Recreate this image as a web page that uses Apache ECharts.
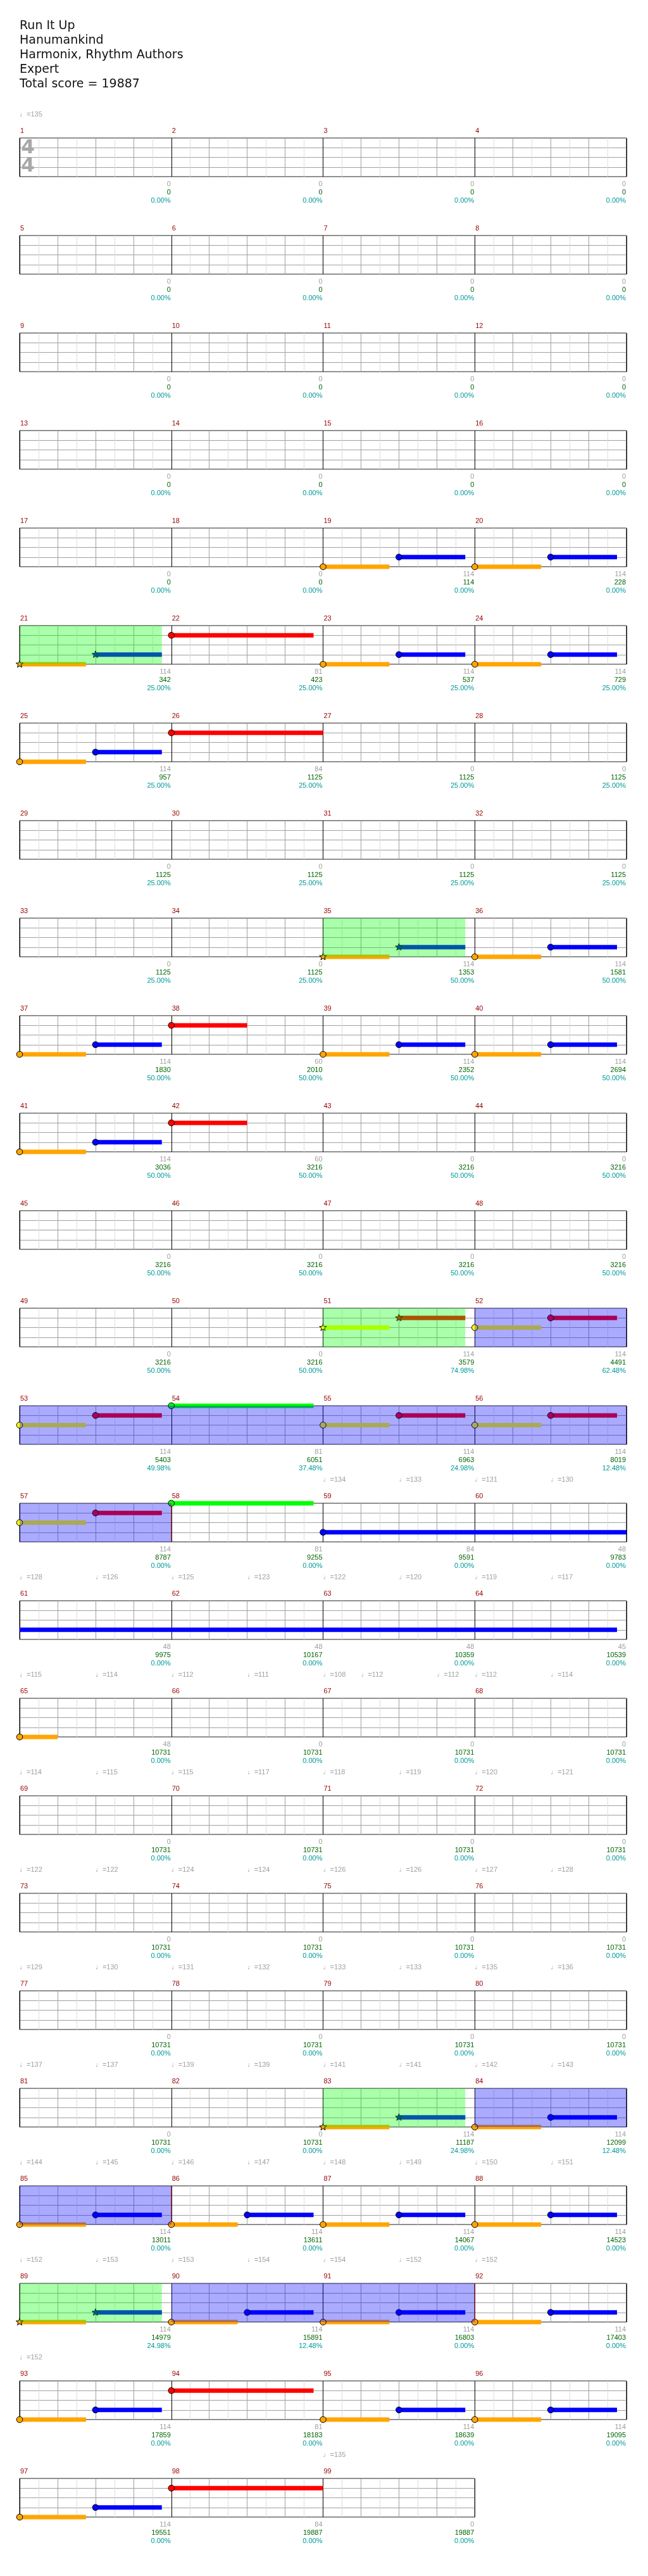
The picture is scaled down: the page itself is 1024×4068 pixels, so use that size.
<!DOCTYPE html>
<html><head><meta charset="utf-8">
<script src="https://cdn.jsdelivr.net/npm/echarts@6/dist/echarts.min.js"></script>
<style>html,body{margin:0;padding:0;background:#fff}#c{width:1024px;height:4068px}</style>
</head><body><div id="c"></div>
<script>
// ---------------- DATA ----------------
const titleLines = ["Run It Up", "Hanumankind", "Harmonix, Rhythm Authors", "Expert", "Total score = 19887"];
const measureCount = 99;
const measuresPerRow = 4;
const timeSignature = ["4", "4"];

// per-measure labels (measure 1..99)
const noteCounts = [
  0,0,0,0, 0,0,0,0, 0,0,0,0, 0,0,0,0,
  0,0,114,114, 114,81,114,114, 114,84,0,0, 0,0,0,0,
  0,0,114,114, 114,60,114,114, 114,60,0,0, 0,0,0,0,
  0,0,114,114, 114,81,114,114, 114,81,84,48, 48,48,48,45,
  48,0,0,0, 0,0,0,0, 0,0,0,0, 0,0,0,0,
  0,0,114,114, 114,114,114,114, 114,114,114,114, 114,81,114,114,
  114,84,0
];
const totalScores = [
  0,0,0,0, 0,0,0,0, 0,0,0,0, 0,0,0,0,
  0,0,114,228, 342,423,537,729, 957,1125,1125,1125, 1125,1125,1125,1125,
  1125,1125,1353,1581, 1830,2010,2352,2694, 3036,3216,3216,3216, 3216,3216,3216,3216,
  3216,3216,3579,4491, 5403,6051,6963,8019, 8787,9255,9591,9783, 9975,10167,10359,10539,
  10731,10731,10731,10731, 10731,10731,10731,10731, 10731,10731,10731,10731, 10731,10731,10731,10731,
  10731,10731,11187,12099, 13011,13611,14067,14523, 14979,15891,16803,17403, 17859,18183,18639,19095,
  19551,19887,19887
];
const starMeter = [
  0,0,0,0, 0,0,0,0, 0,0,0,0, 0,0,0,0,
  0,0,0,0, 25,25,25,25, 25,25,25,25, 25,25,25,25,
  25,25,50,50, 50,50,50,50, 50,50,50,50, 50,50,50,50,
  50,50,74.98,62.48, 49.98,37.48,24.98,12.48, 0,0,0,0, 0,0,0,0,
  0,0,0,0, 0,0,0,0, 0,0,0,0, 0,0,0,0,
  0,0,24.98,12.48, 0,0,0,0, 24.98,12.48,0,0, 0,0,0,0,
  0,0,0
];

// notes: [start (measure), lane (0 orange,1 blue,2 yellow,3 red,4 green), sustain end (measure), star note 1/0]
const notes = [
  [19,0,19.4375,0],[19.5,1,19.9375,0],[20,0,20.4375,0],[20.5,1,20.9375,0],
  [21,0,21.4375,1],[21.5,1,21.9375,1],[22,3,22.9375,0],
  [23,0,23.4375,0],[23.5,1,23.9375,0],[24,0,24.4375,0],[24.5,1,24.9375,0],
  [25,0,25.4375,0],[25.5,1,25.9375,0],[26,3,27,0],
  [35,0,35.4375,1],[35.5,1,35.9375,1],[36,0,36.4375,0],[36.5,1,36.9375,0],
  [37,0,37.4375,0],[37.5,1,37.9375,0],[38,3,38.5,0],
  [39,0,39.4375,0],[39.5,1,39.9375,0],[40,0,40.4375,0],[40.5,1,40.9375,0],
  [41,0,41.4375,0],[41.5,1,41.9375,0],[42,3,42.5,0],
  [51,2,51.4375,1],[51.5,3,51.9375,1],[52,2,52.4375,0],[52.5,3,52.9375,0],
  [53,2,53.4375,0],[53.5,3,53.9375,0],[54,4,54.9375,0],
  [55,2,55.4375,0],[55.5,3,55.9375,0],[56,2,56.4375,0],[56.5,3,56.9375,0],
  [57,2,57.4375,0],[57.5,3,57.9375,0],[58,4,58.9375,0],
  [59,1,64.9375,0],[65,0,65.25,0],
  [83,0,83.4375,1],[83.5,1,83.9375,1],[84,0,84.4375,0],[84.5,1,84.9375,0],
  [85,0,85.4375,0],[85.5,1,85.9375,0],[86,0,86.4375,0],[86.5,1,86.9375,0],
  [87,0,87.4375,0],[87.5,1,87.9375,0],[88,0,88.4375,0],[88.5,1,88.9375,0],
  [89,0,89.4375,1],[89.5,1,89.9375,1],[90,0,90.4375,0],[90.5,1,90.9375,0],
  [91,0,91.4375,0],[91.5,1,91.9375,0],[92,0,92.4375,0],[92.5,1,92.9375,0],
  [93,0,93.4375,0],[93.5,1,93.9375,0],[94,3,94.9375,0],
  [95,0,95.4375,0],[95.5,1,95.9375,0],[96,0,96.4375,0],[96.5,1,96.9375,0],
  [97,0,97.4375,0],[97.5,1,97.9375,0],[98,3,99,0]
];
const starPhrases = [[21,21.9375],[35,35.9375],[51,51.9375],[83,83.9375],[89,89.9375]];
const overdrives = [[52,58],[84,86],[90,92]];
const tempos = [
  [1,135],
  [59,134],[59.5,133],[60,131],[60.5,130],
  [61,128],[61.5,126],[62,125],[62.5,123],[63,122],[63.5,120],[64,119],[64.5,117],
  [65,115],[65.5,114],[66,112],[66.5,111],[67,108],[67.25,112],[67.75,112],[68,112],[68.5,114],
  [69,114],[69.5,115],[70,115],[70.5,117],[71,118],[71.5,119],[72,120],[72.5,121],
  [73,122],[73.5,122],[74,124],[74.5,124],[75,126],[75.5,126],[76,127],[76.5,128],
  [77,129],[77.5,130],[78,131],[78.5,132],[79,133],[79.5,133],[80,135],[80.5,136],
  [81,137],[81.5,137],[82,139],[82.5,139],[83,141],[83.5,141],[84,142],[84.5,143],
  [85,144],[85.5,145],[86,146],[86.5,147],[87,148],[87.5,149],[88,150],[88.5,151],
  [89,152],[89.5,153],[90,153],[90.5,154],[91,154],[91.5,152],[92,152],
  [93,152],
  [99,135]
];

// ---------------- STYLE ----------------
const GRID_LEFT = 31, GRID_TOP0 = 218, ROW_STEP = 154, GRID_H = 61, MEASURE_W = 239.75;
const laneColors = ['#ffa500', '#0000ff', '#ffff00', '#ff0000', '#00ff00'];
const overlayColors = ['rgba(0,255,0,0.333)', 'rgba(0,0,255,0.333)'];
const FONT = '"Liberation Sans","DejaVu Sans",sans-serif';
const SUS_H = 7;

// ---------------- BUILD ----------------
const ROWS = Math.ceil(measureCount / measuresPerRow);
const grids = [], xAxes = [], yAxes = [], series = [];
const hidden = {axisLine:{show:false}, axisTick:{show:false}, axisLabel:{show:false}};

function clipSpans(list, m0, m1, extra) {
  const out = [];
  list.forEach(s => {
    if (s[1] > m0 && s[0] < m1) out.push([Math.max(s[0], m0), Math.min(s[1], m1)].concat(extra(s)));
  });
  return out;
}

for (let r = 0; r < ROWS; r++) {
  const m0 = r * measuresPerRow + 1;
  const n = Math.min(measuresPerRow, measureCount - r * measuresPerRow);
  const m1 = m0 + n;
  grids.push({left: GRID_LEFT, top: GRID_TOP0 + ROW_STEP * r, width: MEASURE_W * n, height: GRID_H,
    show: true, borderColor: '#000', borderWidth: 1, backgroundColor: '#fff'});
  const ax = (interval, color) => Object.assign({gridIndex: r, type: 'value', min: m0, max: m1, interval: interval,
    splitLine: {show: true, lineStyle: {color: color, width: 1}}}, hidden);
  xAxes.push(ax(0.125, '#dedede'), ax(0.25, '#a0a0a0'), ax(1, '#000'));
  yAxes.push(Object.assign({gridIndex: r, type: 'value', min: 0, max: 4, interval: 1,
    splitLine: {show: true, lineStyle: {color: '#a0a0a0', width: 1}}}, hidden));
  const xi = r * 3 + 2;

  // sustains
  const sus = [];
  notes.forEach(nt => { if (nt[2] > m0 && nt[0] < m1) sus.push([Math.max(nt[0], m0), Math.min(nt[2], m1), nt[1]]); });
  series.push({type: 'custom', xAxisIndex: xi, yAxisIndex: r, z: 3, silent: true, clip: false, animation: false,
    data: sus, encode: {x: [0, 1], y: 2},
    renderItem: function (params, api) {
      const a = api.coord([api.value(0), api.value(2)]);
      const b = api.coord([api.value(1), api.value(2)]);
      return {type: 'rect', shape: {x: a[0], y: a[1] - SUS_H / 2, width: b[0] - a[0], height: SUS_H},
        style: {fill: laneColors[api.value(2)]}};
    }});

  // heads
  const heads = notes.filter(nt => nt[0] >= m0 && nt[0] < m1).map(nt => [nt[0], nt[1], nt[3]]);
  series.push({type: 'custom', xAxisIndex: xi, yAxisIndex: r, z: 4, silent: true, clip: false, animation: false,
    data: heads, encode: {x: 0, y: 1},
    renderItem: function (params, api) {
      const p = api.coord([api.value(0), api.value(1)]);
      const fill = laneColors[api.value(1)];
      if (api.value(2) === 1) {
        const pts = [];
        for (let k = 0; k < 10; k++) {
          const rad = k % 2 === 0 ? 6 : 2.5;
          const ang = -Math.PI / 2 + k * Math.PI / 5;
          pts.push([p[0] + rad * Math.cos(ang), p[1] + rad * Math.sin(ang)]);
        }
        return {type: 'polygon', shape: {points: pts}, style: {fill: fill, stroke: '#000', lineWidth: 1}};
      }
      return {type: 'circle', shape: {cx: p[0], cy: p[1], r: 4.8}, style: {fill: fill, stroke: '#000', lineWidth: 1}};
    }});

  // star phrase / overdrive overlays
  const ov = clipSpans(starPhrases, m0, m1, s => [0, 0])
    .concat(clipSpans(overdrives, m0, m1, s => [1, (s[1] > m0 && s[1] <= m1) ? 1 : 0]));
  series.push({type: 'custom', xAxisIndex: xi, yAxisIndex: r, z: 5, silent: true, clip: false, animation: false,
    data: ov, encode: {x: [0, 1]},
    renderItem: function (params, api) {
      const a = api.coord([api.value(0), 4]);
      const b = api.coord([api.value(1), 0]);
      const ch = [{type: 'rect', shape: {x: a[0], y: a[1], width: b[0] - a[0], height: b[1] - a[1]},
        style: {fill: overlayColors[api.value(2)]}}];
      if (api.value(3) === 1) {
        ch.push({type: 'line', shape: {x1: b[0] - 0.5, y1: a[1], x2: b[0] - 0.5, y2: b[1]},
          style: {stroke: 'rgba(210,40,40,0.8)', lineWidth: 1}});
      }
      return {type: 'group', children: ch};
    }});

  // measure labels
  const lab = [];
  for (let m = m0; m < m1; m++) lab.push([m, m, noteCounts[m - 1], totalScores[m - 1], starMeter[m - 1]]);
  series.push({type: 'custom', xAxisIndex: xi, yAxisIndex: r, z: 6, silent: true, clip: false, animation: false,
    data: lab, encode: {x: 0},
    renderItem: function (params, api) {
      const x = api.value(0);
      const t = api.coord([x, 4]);
      const b = api.coord([x + 1, 0]);
      const txt = (s, px, py, color, align) => ({type: 'text', x: px, y: py,
        style: {text: s, fill: color, font: '11px ' + FONT, align: align, verticalAlign: 'middle'}});
      return {type: 'group', children: [
        txt(String(api.value(1)), t[0] + 1, t[1] - 11.5, '#990000', 'left'),
        txt(String(api.value(2)), b[0] - 1, b[1] + 12, '#a0a0a0', 'right'),
        txt(String(api.value(3)), b[0] - 1, b[1] + 25, '#006400', 'right'),
        txt(api.value(4).toFixed(2) + '%', b[0] - 1, b[1] + 38, '#009999', 'right')
      ]};
    }});

  // tempo markings
  const tp = tempos.filter(t => t[0] >= m0 && t[0] < m1);
  series.push({type: 'custom', xAxisIndex: xi, yAxisIndex: r, z: 6, silent: true, clip: false, animation: false,
    data: tp, encode: {x: 0},
    renderItem: function (params, api) {
      const p = api.coord([api.value(0), 4]);
      return {type: 'text', x: p[0], y: p[1] - 37,
        style: {text: '\u2669=' + api.value(1), fill: '#a0a0a0', font: '11px ' + FONT, align: 'left', verticalAlign: 'middle'}};
    }});
}

const graphic = titleLines.map((s, i) => ({type: 'text', left: 31, top: 32 + 23 * i, z: 10,
  style: {text: s, fill: '#111', font: '19px "DejaVu Sans",sans-serif'}}));
timeSignature.forEach((s, i) => graphic.push({type: 'text', x: 44, y: 233.5 + 29.5 * i, z: 10,
  style: {text: s, fill: '#a8a8a8', font: 'bold 31px "DejaVu Sans",sans-serif', align: 'center', verticalAlign: 'middle'}}));

const chart = echarts.init(document.getElementById('c'), null, {renderer: 'canvas', width: 1024, height: 4068});
chart.setOption({
  animation: false,
  backgroundColor: '#fff',
  grid: grids, xAxis: xAxes, yAxis: yAxes, series: series, graphic: graphic
});
</script>
</body></html>
